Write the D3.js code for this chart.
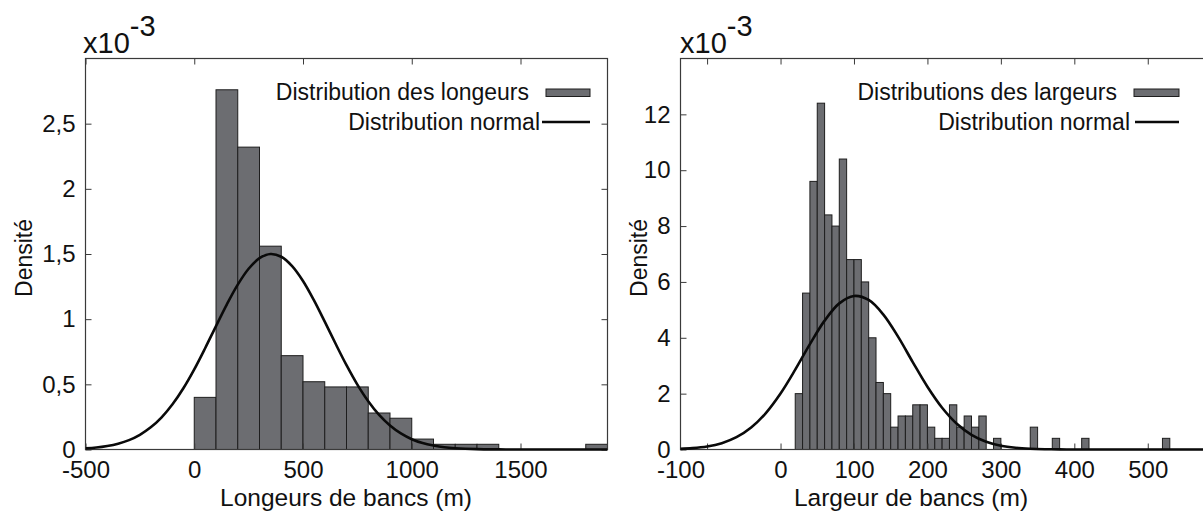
<!DOCTYPE html>
<html>
<head>
<meta charset="utf-8">
<script src="https://cdn.jsdelivr.net/npm/d3@7"></script>
<style>
  html, body { margin: 0; padding: 0; background: #fff; }
  svg { display: block; }
  text { font-family: "Liberation Sans", Arial, sans-serif; fill: #111; }
</style>
</head>
<body>
<svg id="chart" width="1203" height="517"></svg>
<script>
// ---------------- DATA (density values in units of 1e-3) ----------------
// Left panel: lengths
const leftBinStart = [0, 100, 200, 300, 400, 500, 600, 700, 800, 900, 1000, 1100, 1200, 1300, 1800];
const leftBinWidth = 100;
const leftDensity  = [0.40, 2.76, 2.32, 1.56, 0.72, 0.52, 0.48, 0.48, 0.28, 0.24, 0.08, 0.04, 0.04, 0.04, 0.04];
const leftCurveX = [-500,-450,-400,-350,-300,-250,-200,-150,-100,-50,0,50,100,150,200,250,300,350,400,450,500,550,600,650,700,750,800,850,900,950,1000,1050,1100,1150,1200,1300,1400,1500,1700,1900];
const leftCurveY = [0.009,0.015,0.027,0.045,0.072,0.113,0.170,0.247,0.347,0.470,0.615,0.777,0.947,1.114,1.265,1.387,1.468,1.500,1.479,1.407,1.293,1.146,0.981,0.811,0.647,0.498,0.370,0.265,0.184,0.123,0.079,0.049,0.030,0.017,0.010,0.003,0.001,0,0,0];
const leftXTicks = [-500, 0, 500, 1000, 1500];
const leftYTicks = [0, 0.5, 1, 1.5, 2, 2.5];

// Right panel: widths
const rightBinStart = [20,30,40,50,60,70,80,90,100,110,120,130,140,150,160,170,180,190,200,210,220,230,240,250,260,270,290,340,370,410,520];
const rightBinWidth = 10;
const rightDensity  = [2.0,5.6,9.6,12.4,8.4,8.0,10.4,6.8,6.8,6.0,4.0,2.4,2.0,0.8,1.2,1.2,1.6,1.6,0.8,0.4,0.4,1.6,0.8,1.2,0.8,1.2,0.4,0.8,0.4,0.4,0.4];
const rightCurveX = [-140,-120,-100,-80,-60,-40,-20,0,20,40,60,80,100,120,140,160,180,200,220,240,260,280,300,320,340,360,380,400,420,460,500,540,600];
const rightCurveY = [0.020,0.049,0.109,0.227,0.440,0.787,1.305,2.005,2.857,3.771,4.614,5.232,5.497,5.353,4.831,4.040,3.130,2.248,1.496,0.922,0.527,0.279,0.137,0.062,0.026,0.010,0.004,0.001,0,0,0,0,0];
const rightXTicks = [-100, 0, 100, 200, 300, 400, 500];
const rightYTicks = [0, 2, 4, 6, 8, 10, 12];

const panels = [
  {
    frame: {x0: 85.5, x1: 607.5, y0: 58.5, y1: 449.5},
    xDomain: [-500, 1900], yDomain: [0, 3],
    binStart: leftBinStart, binWidth: leftBinWidth, density: leftDensity,
    curveX: leftCurveX, curveY: leftCurveY,
    xTicks: leftXTicks, yTicks: leftYTicks,
    xTitle: "Longeurs de bancs (m)", xTitleX: 346,
    legend1: "Distribution des longeurs", legend2: "Distribution normal",
    swatchRight: 590, text1End: 529, text2End: 540, lineLeft: 542, swatchLeft: 546,
    yTitleX: 32, expX: 83
  },
  {
    frame: {x0: 680.5, x1: 1213.5, y0: 58.5, y1: 449.5},
    xDomain: [-136.2, 589.5], yDomain: [0, 14],
    binStart: rightBinStart, binWidth: rightBinWidth, density: rightDensity,
    curveX: rightCurveX, curveY: rightCurveY,
    xTicks: rightXTicks, yTicks: rightYTicks,
    xTitle: "Largeur de bancs (m)", xTitleX: 911,
    legend1: "Distributions des largeurs", legend2: "Distribution normal",
    swatchRight: 1179, text1End: 1117, text2End: 1130, lineLeft: 1135, swatchLeft: 1134,
    yTitleX: 647, expX: 680, firstLabelAtEdge: true
  }
];

const locale = d3.formatLocale({decimal: ",", thousands: "", grouping: [3], currency: ["", ""], minus: "-"});
const fmt = locale.format("~f");

const svg = d3.select("#chart");
const BAR_FILL = "#6c6d71", BAR_STROKE = "#1e1e1e", FRAME = "#3a3a3a";

panels.forEach((p, i) => {
  const f = p.frame;
  const x = d3.scaleLinear().domain(p.xDomain).range([f.x0, f.x1]);
  const y = d3.scaleLinear().domain(p.yDomain).range([f.y1, f.y0]);
  const g = svg.append("g");

  const clipId = "clip" + i;
  svg.append("clipPath").attr("id", clipId).append("rect")
    .attr("x", f.x0).attr("y", f.y0 - 2).attr("width", f.x1 - f.x0).attr("height", f.y1 - f.y0 + 4);

  // bars
  g.append("g").attr("clip-path", `url(#${clipId})`)
    .selectAll("rect").data(p.binStart.map((s, k) => ({s, v: p.density[k]})))
    .join("rect")
    .attr("x", d => x(d.s))
    .attr("y", d => y(d.v))
    .attr("width", d => x(d.s + p.binWidth) - x(d.s))
    .attr("height", d => y(0) - y(d.v))
    .attr("fill", BAR_FILL).attr("stroke", BAR_STROKE).attr("stroke-width", 1);

  // axes (inward ticks on all sides)
  const bottom = g.append("g").attr("transform", `translate(0,${f.y1})`)
    .call(d3.axisBottom(x).tickValues(p.xTicks).tickSize(-6).tickPadding(12).tickFormat(fmt));
  const top = g.append("g").attr("transform", `translate(0,${f.y0})`)
    .call(d3.axisTop(x).tickValues(p.xTicks).tickSize(-6).tickFormat(""));
  const left = g.append("g").attr("transform", `translate(${f.x0},0)`)
    .call(d3.axisLeft(y).tickValues(p.yTicks).tickSize(-6).tickPadding(10).tickFormat(fmt));
  const right = g.append("g").attr("transform", `translate(${f.x1},0)`)
    .call(d3.axisRight(y).tickValues(p.yTicks).tickSize(-6).tickFormat(""));
  [bottom, top, left, right].forEach(a => {
    a.select(".domain").remove();
    a.selectAll("line").attr("stroke", FRAME).attr("stroke-width", 1);
    a.selectAll("text").attr("font-size", 24).attr("fill", "#111")
      .attr("font-family", '"Liberation Sans", Arial, sans-serif');
  });
  bottom.selectAll("text").attr("dy", "0.68em");
  if (p.firstLabelAtEdge) {
    bottom.selectAll(".tick").filter(d => d === p.xTicks[0]).select("text")
      .attr("transform", `translate(${x(p.xDomain[0]) - x(p.xTicks[0])},0)`);
  }

  // frame
  g.append("rect").attr("x", f.x0).attr("y", f.y0)
    .attr("width", f.x1 - f.x0).attr("height", f.y1 - f.y0)
    .attr("fill", "none").attr("stroke", FRAME).attr("stroke-width", 1.2);

  // normal curve
  const line = d3.line().x((d, k) => x(p.curveX[k])).y(d => y(d)).curve(d3.curveCatmullRom);
  g.append("path").attr("clip-path", `url(#${clipId})`)
    .datum(p.curveY).attr("d", line)
    .attr("fill", "none").attr("stroke", "#0a0a0a").attr("stroke-width", 2.6);

  // axis titles
  g.append("text").attr("x", p.xTitleX).attr("y", f.y1 + 56)
    .attr("text-anchor", "middle").attr("font-size", 24.5).text(p.xTitle);
  g.append("text")
    .attr("transform", `translate(${p.yTitleX},${(f.y0 + f.y1) / 2 + 4}) rotate(-90)`)
    .attr("text-anchor", "middle").attr("font-size", 23).text("Densité");

  // exponent label
  const ex = g.append("text").attr("x", p.expX).attr("y", f.y0 - 6).attr("font-size", 29);
  ex.append("tspan").text("x10");
  ex.append("tspan").attr("dy", -17).text("-3");

  // legend
  g.append("text").attr("x", p.text1End).attr("y", 100).attr("text-anchor", "end")
    .attr("font-size", 23).text(p.legend1);
  g.append("rect").attr("x", p.swatchLeft).attr("y", 89)
    .attr("width", p.swatchRight - p.swatchLeft).attr("height", 7.5)
    .attr("fill", BAR_FILL).attr("stroke", BAR_STROKE).attr("stroke-width", 1);
  g.append("text").attr("x", p.text2End).attr("y", 130).attr("text-anchor", "end")
    .attr("font-size", 23).text(p.legend2);
  g.append("line").attr("x1", p.lineLeft).attr("x2", p.swatchRight)
    .attr("y1", 122).attr("y2", 122).attr("stroke", "#0a0a0a").attr("stroke-width", 2.6);
});
</script>
</body>
</html>
